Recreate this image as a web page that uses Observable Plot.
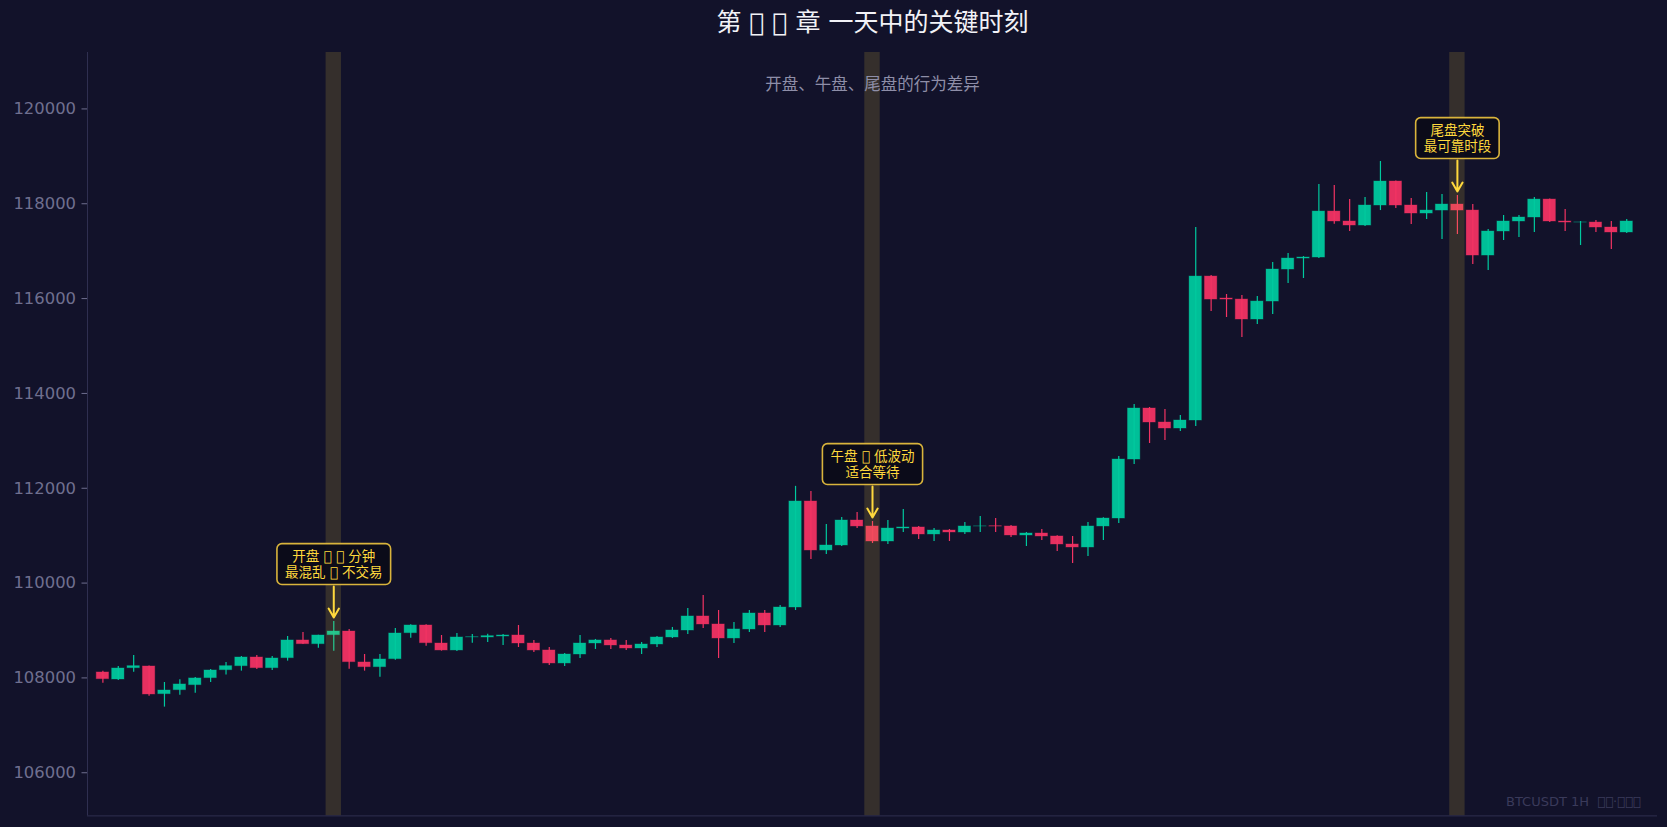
<!DOCTYPE html>
<html>
<head>
<meta charset="utf-8">
<script src="https://cdn.jsdelivr.net/npm/d3@7"></script>
<script src="https://cdn.jsdelivr.net/npm/@observablehq/plot@0.6"></script>
<style>
  html, body { margin: 0; padding: 0; background: #12122a; }
  #chart { width: 1667px; height: 827px; }
</style>
</head>
<body>
<div id="chart"></div>
<script>
// glyphs that the reference rendered as missing-glyph boxes
const NA = "\uE000";

const titleText = `第 ${NA} ${NA} 章 一天中的关键时刻`;
const subtitleText = "开盘、午盘、尾盘的行为差异";
const footerText = `BTCUSDT 1H  ${NA}${NA}·${NA}${NA}${NA}`;

// hourly candles (index 0..99)
const opens = [
  108115,107967,108206,108241,107658,107742,107848,107996,108164,108248,
  108431,108206,108417,108790,108712,108902,108979,108326,108227,108396,
  108944,109106,108726,108579,108855,108853,108874,108895,108726,108579,
  108305,108494,108726,108790,108684,108621,108705,108853,109000,109296,
  109127,108832,109022,109359,109106,109485,111721,110688,110793,111320,
  111194,110877,111151,111173,111025,111109,111067,111194,111200,111194,
  111004,111046,110983,110814,110751,111194,111362,112606,113682,113387,
  113260,113429,116465,116002,115980,115559,115938,116613,116845,116866,
  117836,117626,117541,117963,118469,117963,117794,117857,117984,117857,
  116908,117415,117626,117710,118089,117626,117604,117604,117499,117394
];
const highs = [
  108143,108241,108473,108250,107904,107960,108010,108178,108326,108452,
  108473,108452,108874,108958,108900,109190,109022,108494,108494,109043,
  109120,109120,108895,108937,108916,108923,108916,109106,108790,108642,
  108515,108895,108811,108832,108790,108747,108874,109064,109464,109738,
  109422,109169,109422,109422,109528,112040,111932,111236,111383,111489,
  111299,111320,111552,111194,111151,111130,111278,111404,111362,111215,
  111067,111130,110997,110983,111278,111376,112670,113766,113703,113661,
  113534,117499,116486,116086,116065,116044,116761,116950,116887,118406,
  118385,118090,118131,118891,118480,118110,118237,118195,118174,117984,
  117457,117752,117752,118131,118100,117878,117626,117646,117626,117668
];
const lows = [
  107890,107946,108122,107616,107384,107637,107679,107904,108059,108143,
  108178,108157,108354,108705,108628,108565,108185,108143,108016,108375,
  108839,108670,108565,108558,108733,108747,108684,108642,108537,108262,
  108241,108410,108600,108600,108579,108494,108642,108832,108916,109043,
  108410,108726,108958,108958,109064,109422,110498,110603,110772,111151,
  110835,110814,111067,110920,110877,110877,111025,111067,111067,110962,
  110772,110898,110666,110413,110561,110898,111257,112501,112944,113007,
  113197,113303,115727,115601,115179,115453,115664,116318,116424,116845,
  117570,117415,117520,117857,117899,117562,117668,117246,117351,116719,
  116592,117225,117288,117394,117604,117415,117119,117394,117035,117373
];
const closes = [
  107974,108199,108248,107651,107735,107862,107989,108157,108248,108431,
  108206,108410,108790,108712,108895,108979,108333,108227,108389,108937,
  109106,108733,108579,108853,108860,108881,108895,108726,108579,108305,
  108494,108726,108790,108684,108621,108705,108853,109000,109296,109127,
  108832,109022,109359,109106,109485,111721,110688,110793,111320,111194,
  110877,111151,111173,111025,111109,111067,111194,111196,111192,111004,
  111046,110983,110814,110751,111194,111362,112606,113682,113387,113260,
  113429,116465,115980,115980,115559,115938,116613,116845,116866,117836,
  117626,117541,117963,118469,117963,117794,117857,117984,117857,116908,
  117415,117626,117710,118089,117626,117604,117606,117499,117394,117626
];

// highlighted session candles and their notes
const sessionIdx = [15, 50, 88];
const sessionNotes = [
  `开盘 ${NA} ${NA} 分钟\n最混乱 ${NA} 不交易`,
  `午盘 ${NA} 低波动\n适合等待`,
  "尾盘突破\n最可靠时段"
];

const yTicks = [106000, 108000, 110000, 112000, 114000, 116000, 118000, 120000];

const green = "#00c99e";
const red = "#f23363";
const gold = "#ffd93d";

const candles = opens.map((o, i) => ({
  i, o, h: highs[i], l: lows[i], c: closes[i], up: closes[i] >= o
}));
const notes = sessionIdx.map((i, k) => ({ i, h: highs[i], label: sessionNotes[k] }));

const yDomain = [105090, 121190];
const marginTop = 52, marginBottom = 11.6, H = 827;
const pxPerUnit = (H - marginTop - marginBottom) / (yDomain[1] - yDomain[0]);

const cjk = "'DejaVu Sans', 'Noto Sans CJK SC', sans-serif";

const svg = Plot.plot({
  width: 1667,
  height: H,
  marginLeft: 87,
  marginRight: 10,
  marginTop,
  marginBottom,
  x: { domain: [-1, 101], axis: null },
  y: { domain: yDomain, axis: null },
  style: {
    background: "#12122a",
    color: "#6f6f8f",
    fontFamily: "'DejaVu Sans', sans-serif",
    fontSize: "16.4px",
    overflow: "visible"
  },
  marks: [
    // wicks
    Plot.ruleX(candles, {
      x: "i", y1: "l", y2: "h",
      stroke: d => d.up ? green : red,
      strokeWidth: 1.2
    }),
    // bodies
    Plot.rect(candles, {
      x1: d => d.i - 0.4, x2: d => d.i + 0.4,
      y1: "o", y2: "c",
      fill: d => d.up ? green : red,
      fillOpacity: 0.95,
      stroke: d => d.up ? green : red,
      strokeOpacity: 0.35,
      strokeWidth: 1
    }),
    // session highlight bands
    Plot.rect(sessionIdx, {
      x1: d => d - 0.5, x2: d => d + 0.5,
      fill: gold, fillOpacity: 0.15
    }),
    // spines
    Plot.ruleX([-1], { stroke: "#2f2f50", strokeWidth: 1 }),
    Plot.ruleY([yDomain[0]], { stroke: "#2f2f50", strokeWidth: 1 }),
    // y axis
    Plot.axisY(yTicks, {
      tickSize: 5.5, tickPadding: 6,
      tickFormat: d3.format("d"),
      fontSize: 16.4
    }),
    // note arrows
    Plot.arrow(notes, {
      x1: "i", x2: "i",
      y1: d => d.h + 35 / pxPerUnit,
      y2: d => d.h + 4 / pxPerUnit,
      stroke: gold, strokeWidth: 2,
      headLength: 9, headAngle: 60
    }),
    // note texts
    Plot.text(notes, {
      x: "i", y: "h", text: "label",
      dy: -57.5,
      fill: gold,
      fontSize: 13.5,
      lineHeight: 1.17,
      fontFamily: cjk
    }),
    // title
    Plot.text([titleText], {
      frameAnchor: "top", lineAnchor: "middle", dy: -29.5,
      fill: "#f2f2f7", fontSize: 25,
      fontFamily: cjk
    }),
    // subtitle
    Plot.text([subtitleText], {
      frameAnchor: "top", lineAnchor: "middle", dy: 32.5,
      fill: "#8e8ea8", fontSize: 16.5,
      fontFamily: cjk
    }),
    // footer / watermark
    Plot.text([footerText], {
      frameAnchor: "bottom-right", lineAnchor: "middle", textAnchor: "end",
      dx: -17, dy: -14.4,
      fill: "#3a3a5a", fontSize: 13,
      fontFamily: "'DejaVu Sans', sans-serif"
    })
  ]
});

document.getElementById("chart").appendChild(svg);

// rounded boxes behind the notes
const noteKeys = new Set(sessionNotes.map(s => s.replace(/\n/g, "")));
svg.querySelectorAll("text").forEach(el => {
  if (!noteKeys.has(el.textContent)) return;
  const bb = el.getBBox();
  const h = bb.height + 9;
  const w = bb.width + 16;
  const cx = bb.x + bb.width / 2;
  const cy = bb.y + bb.height / 2;
  const rect = document.createElementNS("http://www.w3.org/2000/svg", "rect");
  rect.setAttribute("x", cx - w / 2);
  rect.setAttribute("y", cy - h / 2);
  rect.setAttribute("width", w);
  rect.setAttribute("height", h);
  rect.setAttribute("rx", 5);
  rect.setAttribute("fill", "#0b0b18");
  rect.setAttribute("fill-opacity", 0.92);
  rect.setAttribute("stroke", "#d9b43c");
  rect.setAttribute("stroke-width", 1.6);
  const t = el.getAttribute("transform");
  if (t) rect.setAttribute("transform", t);
  el.parentNode.insertBefore(rect, el);
});
</script>
</body>
</html>
